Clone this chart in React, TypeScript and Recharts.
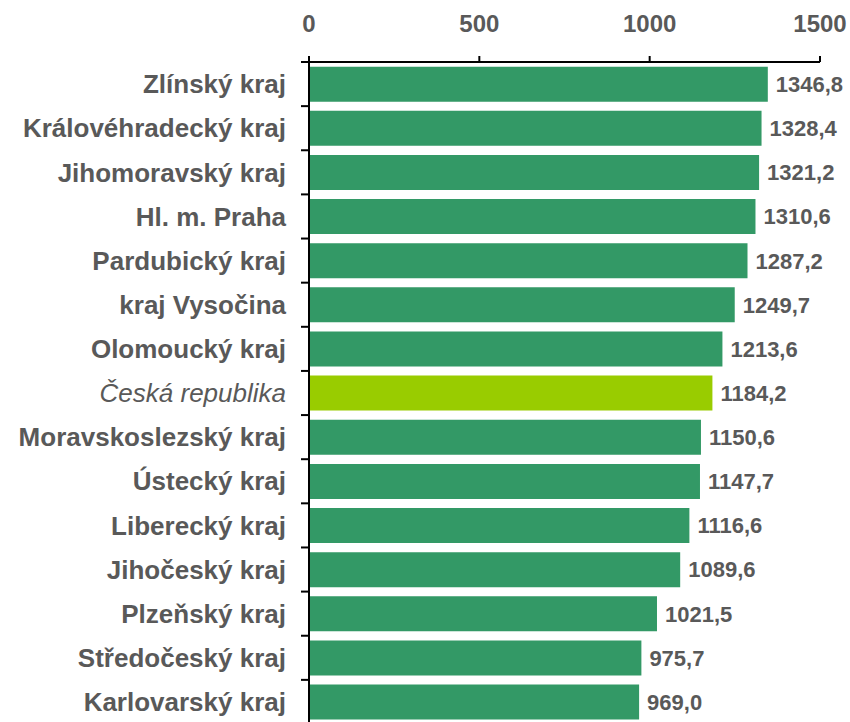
import React from 'react';
import { BarChart, Bar, XAxis, YAxis, Cell, LabelList } from 'recharts';

const categories = [
  'Zlínský kraj',
  'Královéhradecký kraj',
  'Jihomoravský kraj',
  'Hl. m. Praha',
  'Pardubický kraj',
  'kraj Vysočina',
  'Olomoucký kraj',
  'Česká republika',
  'Moravskoslezský kraj',
  'Ústecký kraj',
  'Liberecký kraj',
  'Jihočeský kraj',
  'Plzeňský kraj',
  'Středočeský kraj',
  'Karlovarský kraj',
];

const values = [
  1346.8, 1328.4, 1321.2, 1310.6, 1287.2, 1249.7, 1213.6, 1184.2, 1150.6,
  1147.7, 1116.6, 1089.6, 1021.5, 975.7, 969.0,
];

const highlightCategory = 'Česká republika';
const xTicks = [0, 500, 1000, 1500];

const data = categories.map((name, i) => ({ name, value: values[i] }));

const CHART_W = 850;
const CHART_H = 730;
const MARGIN = { top: 0, right: 30, bottom: 6, left: 9 };
const X_AXIS_H = 62;
const Y_AXIS_W = 300;
const PLOT_TOP = MARGIN.top + X_AXIS_H;
const PLOT_BOTTOM = CHART_H - MARGIN.bottom;
const BAND = (PLOT_BOTTOM - PLOT_TOP) / categories.length;
const AXIS_X = MARGIN.left + Y_AXIS_W;

const TEXT = '#595959';
const FONT = '"Liberation Sans", Arial, sans-serif';

const CategoryTick = (props: any) => {
  const { y, payload } = props;
  const isHl = payload.value === highlightCategory;
  const top = y - BAND / 2;
  return (
    <g>
      <line x1={AXIS_X - 8} x2={AXIS_X} y1={top} y2={top} stroke="#000" strokeWidth={2} />
      <text
        x={AXIS_X - 23}
        y={y}
        dy="0.355em"
        textAnchor="end"
        fill={TEXT}
        fontFamily={FONT}
        fontSize={26}
        fontWeight={isHl ? 'normal' : 'bold'}
        fontStyle={isHl ? 'italic' : 'normal'}
      >
        {payload.value}
      </text>
    </g>
  );
};

const fmt = (v: any) => Number(v).toFixed(1).replace('.', ',');

export default function App() {
  return (
    <div style={{ position: 'absolute', left: 0, top: 0, width: 850, height: 722, overflow: 'hidden', background: '#fff' }}>
      <BarChart
        width={CHART_W}
        height={CHART_H}
        data={data}
        layout="vertical"
        margin={MARGIN}
        barCategoryGap="10.6%"
      >
        <XAxis
          type="number"
          orientation="top"
          domain={[0, 1500]}
          ticks={xTicks}
          height={X_AXIS_H}
          tickSize={6}
          tickMargin={24}
          axisLine={{ stroke: '#000', strokeWidth: 2 }}
          tickLine={{ stroke: '#000', strokeWidth: 2 }}
          tick={{ fill: TEXT, fontSize: 24, fontWeight: 'bold', fontFamily: FONT }}
          interval={0}
        />
        <YAxis
          type="category"
          dataKey="name"
          width={Y_AXIS_W}
          axisLine={{ stroke: '#000', strokeWidth: 2 }}
          tickLine={false}
          tick={<CategoryTick />}
          interval={0}
        />
        <Bar dataKey="value" isAnimationActive={false}>
          {data.map((d) => (
            <Cell key={d.name} fill={d.name === highlightCategory ? '#99CC00' : '#339966'} />
          ))}
          <LabelList
            dataKey="value"
            position="right"
            offset={8}
            formatter={fmt}
            fill={TEXT}
            fontSize={22}
            fontWeight="bold"
            fontFamily={FONT}
          />
        </Bar>
      </BarChart>
    </div>
  );
}
